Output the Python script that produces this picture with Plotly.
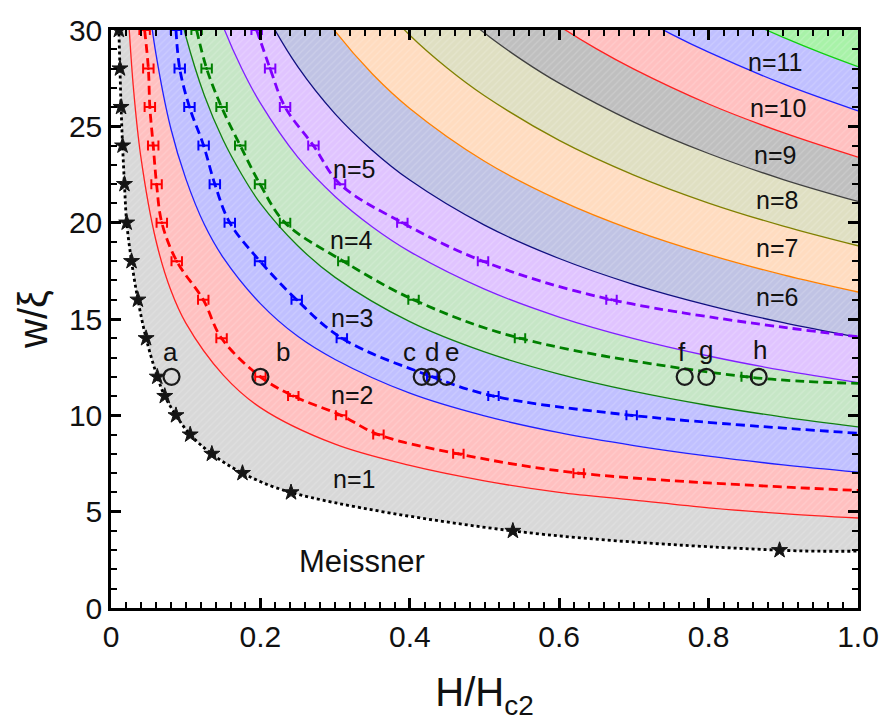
import plotly.graph_objects as go

# ---------------- data ----------------
# Meissner boundary: star data points
star_H = [0.0105, 0.012, 0.0135, 0.0155, 0.018, 0.021, 0.0275, 0.036, 0.047, 0.062,
          0.072, 0.087, 0.106, 0.135, 0.176, 0.241, 0.538, 0.895]
star_W = [30, 28, 26, 24, 22, 20, 18, 16, 14, 12, 11, 10, 9, 8, 7, 6, 4, 3]
# dotted guide line through the stars (with its ends)
meis_H = [0.0085] + star_H + [1.0]
meis_W = [32] + star_W + [2.95]

# solid boundaries between vortex-row regions n / n+1
b1_H = [0.021, 0.03, 0.04, 0.06, 0.08, 0.1, 0.15, 0.2, 0.3, 0.4, 0.5, 0.6, 0.7, 0.8, 0.9, 1.0]
b1_W = [32.2, 27.0, 23.4, 19.1, 16.5, 14.8, 12.1, 10.4, 8.5, 7.4, 6.6, 6.0, 5.6, 5.2, 4.9, 4.67]
b2_H = [0.048, 0.06, 0.08, 0.1, 0.125, 0.15, 0.2, 0.25, 0.3, 0.4, 0.5, 0.6, 0.7, 0.8, 0.9, 1.0]
b2_W = [32.2, 28.8, 24.9, 22.3, 19.9, 18.2, 15.8, 14.1, 12.9, 11.15, 9.97, 9.1, 8.43, 7.88, 7.43, 7.05]
b3_H = [0.086, 0.1, 0.125, 0.15, 0.175, 0.2, 0.25, 0.3, 0.4, 0.5, 0.6, 0.7, 0.8, 0.9, 1.0]
b3_W = [32.05, 29.7, 26.6, 24.3, 22.5, 21.0, 18.8, 17.16, 14.86, 13.29, 12.14, 11.24, 10.51, 9.91, 9.4]
b4_H = [0.133, 0.15, 0.175, 0.2, 0.25, 0.3, 0.35, 0.4, 0.5, 0.6, 0.7, 0.8, 0.9, 1.0]
b4_W = [32.1, 30.2, 28.0, 26.2, 23.4, 21.36, 19.78, 18.5, 16.55, 15.1, 13.98, 13.08, 12.33, 11.7]
b5_H = [0.193, 0.21, 0.25, 0.3, 0.35, 0.4, 0.5, 0.6, 0.7, 0.8, 0.9, 1.0]
b5_W = [32.0, 30.66, 28.1, 25.65, 23.75, 22.21, 19.87, 18.14, 16.79, 15.71, 14.81, 14.05]
b6_H = [0.262, 0.3, 0.35, 0.4, 0.5, 0.6, 0.7, 0.8, 0.9, 1.0]
b6_W = [32.04, 29.94, 27.72, 25.93, 23.19, 21.17, 19.6, 18.34, 17.29, 16.4]
b7_H = [0.345, 0.4, 0.45, 0.5, 0.6, 0.7, 0.8, 0.9, 1.0]
b7_W = [32.0, 29.73, 28.03, 26.59, 24.27, 22.47, 21.02, 19.82, 18.8]
b8_H = [0.435, 0.5, 0.55, 0.6, 0.7, 0.8, 0.9, 1.0]
b8_W = [32.0, 29.84, 28.45, 27.24, 25.22, 23.59, 22.24, 21.1]
b9_H = [0.535, 0.6, 0.65, 0.7, 0.8, 0.9, 1.0]
b9_W = [32.0, 30.21, 29.02, 27.97, 26.16, 24.67, 23.4]
b10_H = [0.65, 0.7, 0.75, 0.8, 0.9, 1.0]
b10_W = [32.0, 30.84, 29.79, 28.85, 27.2, 25.8]
b11_H = [0.77, 0.8, 0.85, 0.9, 0.95, 1.0]
b11_W = [32.0, 31.42, 30.48, 29.62, 28.83, 28.1]
top_H = [0.74, 1.0]
top_W = [33, 33]

# measured transitions (dashed, with horizontal error bars)
red_H = [0.045, 0.050, 0.052, 0.0565, 0.061, 0.068, 0.088, 0.1235, 0.148, 0.2, 0.244, 0.308, 0.358, 0.465, 0.626]
red_W = [30, 28, 26, 24, 22, 20, 18, 16, 14, 12, 11, 10, 9, 8, 7]
blue_H = [0.087, 0.092, 0.105, 0.124, 0.139, 0.159, 0.1995, 0.2486, 0.309, 0.43, 0.512, 0.697]
blue_W = [30, 28, 26, 24, 22, 20, 18, 16, 14, 12, 11, 10]
green_H = [0.1146, 0.128, 0.148, 0.173, 0.1995, 0.233, 0.311, 0.405, 0.5475, 0.851]
green_W = [30, 28, 26, 24, 22, 20, 18, 16, 14, 12]
purple_H = [0.195, 0.213, 0.233, 0.271, 0.3066, 0.39, 0.498, 0.67]
purple_W = [30, 28, 26, 24, 22, 20, 18, 16]
err_H = 0.007
# dashed guide ends at the right frame
red_end = (1.0, 6.1)
blue_end = (1.0, 9.07)
green_end = (1.0, 11.66)
purple_end = (1.0, 14.08)

# marked states a-h
pt_labels = ['a', 'b', 'c', 'd', 'e', 'f', 'g', 'h']
pt_H = [0.081, 0.2, 0.416, 0.429, 0.449, 0.768, 0.797, 0.867]
pt_W = [12, 12, 12, 12, 12, 12, 12, 12]
lab_H = [0.08, 0.23, 0.40, 0.43, 0.456, 0.764, 0.797, 0.869]
lab_W = [13.3, 13.3, 13.3, 13.3, 13.3, 13.3, 13.4, 13.4]

# region labels
n_text = ['n=1', 'n=2', 'n=3', 'n=4', 'n=5', 'n=6', 'n=7', 'n=8', 'n=9', 'n=10', 'n=11']
n_H = [0.325, 0.322, 0.322, 0.322, 0.325, 0.891, 0.891, 0.891, 0.889, 0.893, 0.889]
n_W = [6.7, 11.05, 15.05, 19.1, 22.8, 16.15, 18.68, 21.17, 23.5, 25.93, 28.35]

x_ticks = [0, 0.2, 0.4, 0.6, 0.8, 1.0]
x_ticktext = ['0', '0.2', '0.4', '0.6', '0.8', '1.0']
y_ticks = [0, 5, 10, 15, 20, 25, 30]

# ---------------- styles ----------------
bounds = [(meis_H, meis_W), (b1_H, b1_W), (b2_H, b2_W), (b3_H, b3_W), (b4_H, b4_W),
          (b5_H, b5_W), (b6_H, b6_W), (b7_H, b7_W), (b8_H, b8_W), (b9_H, b9_W),
          (b10_H, b10_W), (b11_H, b11_W), (top_H, top_W)]
band_colors = ['#d8d8d8', '#ffc0c0', '#c0c0ff', '#c6e6c6', '#e0c4ff', '#c0c3e4',
               '#ffdcc0', '#dfdfc2', '#bfbfbf', '#ffc0c0', '#c0c0ff', '#a8f2a8']
line_colors = ['#ff2020', '#2020ff', '#108010', '#8020ff', '#101080', '#ff8000',
               '#808000', '#404040', '#ff2020', '#2020ff', '#10d010']
FONT = 'Arial, Liberation Sans, sans-serif'

fig = go.Figure()

# filled bands
for i, (hx, wy) in enumerate(bounds):
    kw = dict(x=hx, y=wy, mode='lines', line=dict(width=0, shape='spline', smoothing=1),
              hoverinfo='skip', showlegend=False)
    if i > 0:
        c = band_colors[i - 1]
        kw.update(fill='tonexty', fillcolor=c,
                  fillpattern=dict(shape='/', bgcolor=c, fgcolor='white',
                                   fgopacity=0.18, size=5, solidity=0.25))
    fig.add_trace(go.Scatter(**kw))

# solid boundary lines
for i in range(1, 12):
    hx, wy = bounds[i]
    fig.add_trace(go.Scatter(x=hx, y=wy, mode='lines', hoverinfo='skip', showlegend=False,
                             line=dict(color=line_colors[i - 1], width=1.3, shape='spline')))

# dotted Meissner line + stars
fig.add_trace(go.Scatter(x=meis_H, y=meis_W, mode='lines', showlegend=False, hoverinfo='skip',
                         line=dict(color='black', width=2.8, dash='dot', shape='spline')))
fig.add_trace(go.Scatter(x=star_H, y=star_W, mode='markers', showlegend=False,
                         marker=dict(symbol='star', size=12, color='#151515',
                                     line=dict(width=1, color='#151515'))))

# dashed measured transitions
for hx, wy, end, col in [(red_H, red_W, red_end, '#ff0000'), (blue_H, blue_W, blue_end, '#0000ff'),
                         (green_H, green_W, green_end, '#008000'),
                         (purple_H, purple_W, purple_end, '#8000ff')]:
    fig.add_trace(go.Scatter(x=hx + [end[0]], y=wy + [end[1]], mode='lines', showlegend=False,
                             hoverinfo='skip',
                             line=dict(color=col, width=2.8, dash='9px,5px', shape='spline')))
    fig.add_trace(go.Scatter(x=hx, y=wy, mode='markers', showlegend=False,
                             marker=dict(size=3, color=col),
                             error_x=dict(type='constant', value=err_H, color=col,
                                          thickness=2, width=5)))

# marked states
fig.add_trace(go.Scatter(x=pt_H, y=pt_W, mode='markers', showlegend=False,
                         marker=dict(symbol='circle-open', size=16, color='#1a1a1a',
                                     line=dict(width=2.2, color='#1a1a1a'))))

annotations = []
for t, hx, wy in zip(pt_labels, lab_H, lab_W):
    annotations.append(dict(x=hx, y=wy, text=t, showarrow=False, xref='x', yref='y',
                            font=dict(family=FONT, size=26, color='#111111')))
for t, hx, wy in zip(n_text, n_H, n_W):
    annotations.append(dict(x=hx, y=wy, text=t, showarrow=False, xref='x', yref='y',
                            font=dict(family=FONT, size=25, color='#111111')))
annotations.append(dict(x=0.336, y=2.4, text='Meissner', showarrow=False, xref='x', yref='y',
                        font=dict(family=FONT, size=31, color='#111111')))

axis_common = dict(showgrid=False, zeroline=False, showline=True, linecolor='black',
                   linewidth=2.5, mirror='allticks', tickmode='array',
                   ticks='inside', ticklen=10, tickwidth=2.5, tickcolor='black',
                   automargin=False,
                   tickfont=dict(family=FONT, size=30, color='#111111'))

fig.update_layout(
    width=883, height=724, autosize=False,
    margin=dict(l=111, r=25, t=30, b=116, autoexpand=False),
    paper_bgcolor='white', plot_bgcolor='white',
    annotations=annotations,
    xaxis=dict(range=[0, 1.0], tickvals=x_ticks, ticktext=x_ticktext,
               minor=dict(dtick=0.02, tick0=0, ticks='inside', ticklen=6, tickwidth=1.8,
                          tickcolor='black', showgrid=False),
               title=dict(text='H/H<sub>c2</sub>', font=dict(family=FONT, size=40, color='#111111'),
                          standoff=27),
               **axis_common),
    yaxis=dict(range=[0, 30], tickvals=y_ticks,
               minor=dict(dtick=1, tick0=0, ticks='inside', ticklen=6, tickwidth=1.8,
                          tickcolor='black', showgrid=False),
               title=dict(text='w/ξ', font=dict(family=FONT, size=40, color='#111111'), standoff=9),
               **axis_common),
)

fig.write_html('out.html')
